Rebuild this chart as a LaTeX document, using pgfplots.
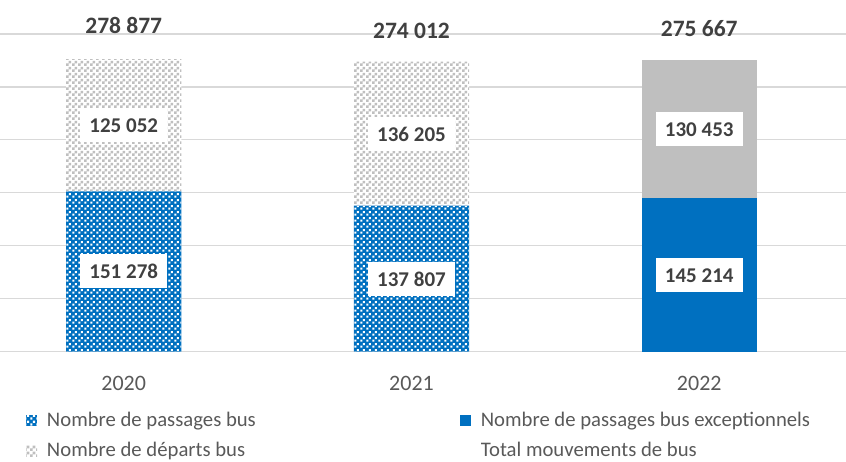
\documentclass[border=0pt]{standalone}
\usepackage{pgfplots}
\pgfplotsset{compat=1.18}
\usepackage{fontspec}
\setmainfont{Carlito}
\usetikzlibrary{patterns}
\definecolor{cblue}{HTML}{0070C0}
\definecolor{cgrey}{HTML}{BFBFBF}
\definecolor{gridc}{HTML}{D9D9D9}
\definecolor{lblc}{HTML}{404040}
\definecolor{tickc}{HTML}{595959}
\pgfdeclarepatternformonly{mycheck}{\pgfqpoint{0bp}{0bp}}{\pgfqpoint{6bp}{6bp}}{\pgfqpoint{6bp}{6bp}}{%
  \pgfpathrectangle{\pgfqpoint{0bp}{0bp}}{\pgfqpoint{3bp}{3bp}}%
  \pgfpathrectangle{\pgfqpoint{3bp}{3bp}}{\pgfqpoint{3bp}{3bp}}%
  \pgfusepath{fill}}
\pgfdeclarepatternformonly{mycheckw}{\pgfqpoint{0bp}{0bp}}{\pgfqpoint{6bp}{6bp}}{\pgfqpoint{6bp}{6bp}}{%
  \pgfpathrectangle{\pgfqpoint{0.3bp}{0.3bp}}{\pgfqpoint{2.4bp}{2.4bp}}%
  \pgfpathrectangle{\pgfqpoint{3.3bp}{3.3bp}}{\pgfqpoint{2.4bp}{2.4bp}}%
  \pgfusepath{fill}}
\def\skipx{x}
\newcommand\lbl[1]{\edef\tmpl{#1}\ifx\tmpl\skipx\else{\setlength\fboxsep{0pt}\colorbox{white}{\rule[-9.5bp]{0pt}{34bp}\hspace{9bp}\tmpl\hspace{9bp}}}\fi}
\pgfplotsset{sq/.style={legend image code/.code={\fill[##1] (0bp,-4.5bp) rectangle (11bp,6.5bp);}}}
\begin{document}
\begin{tikzpicture}
\useasboundingbox (0,-110.5bp) rectangle (846bp,351.5bp);
\begin{axis}[
  at={(0,0)}, anchor=south west,
  scale only axis, width=846bp, height=317.5bp,
  xmin=-0.43, xmax=2.51, ymin=0, ymax=300000,
  ybar stacked, bar width=0.4,
  clip=false,
  axis line style={draw=none},
  major tick length=0pt,
  xtick={0,1,2}, xticklabels={2020,2021,2022},
  xticklabel style={font=\fontsize{22bp}{26bp}\selectfont, text=tickc, yshift=-21.5bp},
  ytick={0,50000,...,300000}, yticklabels={}, scaled y ticks=false,
  ymajorgrids, grid style={gridc, line width=1.3bp},
  nodes near coords={\lbl{\pgfplotspointmeta}},
  point meta=explicit symbolic,
  every node near coord/.append style={anchor=center, inner sep=0pt,
     font=\fontsize{21bp}{25bp}\selectfont\bfseries, text=lblc},
  legend columns=2,
  legend cell align=left,
  legend style={draw=none, fill=none, inner sep=0pt, outer sep=0pt,
    at={(rel axis cs:0,0)}, anchor=north west, xshift=26bp, yshift=-59.5bp,
    font=\fontsize{20.7bp}{24bp}\selectfont, text=tickc,
    nodes={inner sep=0pt, text height=15bp, text depth=5bp},
    row sep=10.5bp,
    /tikz/every odd column/.append style={column sep=10bp},
    /tikz/every even column/.append style={column sep=204bp}},
]
\addplot[draw=none, preaction={fill=cblue}, pattern=mycheckw, pattern color=white, sq]
  coordinates {(0,151278) [151 278] (1,137807) [137 807] (2,0) [x]};
\addlegendentry{Nombre de passages bus}
\addplot[draw=none, fill=cblue, sq]
  coordinates {(0,0) [x] (1,0) [x] (2,145214) [145 214]};
\addlegendentry{Nombre de passages bus exceptionnels}
\addplot[draw=none, preaction={fill=white}, pattern=mycheck, pattern color=cgrey, sq]
  coordinates {(0,125052) [125 052] (1,136205) [136 205] (2,0) [x]};
\addlegendentry{Nombre de départs bus}
\addplot[draw=none, fill=cgrey, forget plot]
  coordinates {(0,0) [x] (1,0) [x] (2,130453) [130 453]};
\addlegendimage{empty legend}
\addlegendentry{Total mouvements de bus}
\end{axis}
\begin{axis}[
  at={(0,0)}, anchor=south west,
  scale only axis, width=846bp, height=317.5bp,
  xmin=-0.43, xmax=2.51, ymin=0, ymax=300000,
  hide axis, clip=false,
  nodes near coords={\pgfplotspointmeta},
  point meta=explicit symbolic,
  every node near coord/.append style={anchor=center, inner sep=0pt, yshift=31bp,
     font=\fontsize{23.5bp}{28bp}\selectfont\bfseries, text=lblc},
]
\addplot[draw=none, mark=none] coordinates {(0,278877) [278 877] (1,274012) [274 012] (2,275667) [275 667]};
\end{axis}
\end{tikzpicture}
\end{document}
